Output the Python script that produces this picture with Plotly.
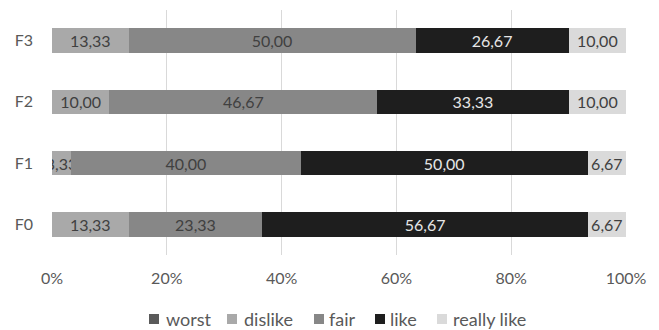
import plotly.graph_objects as go

categories = ["F0", "F1", "F2", "F3"]
series_names = ["worst", "dislike", "fair", "like", "really like"]
worst = [0, 0, 0, 0]
dislike = [13.33, 3.33, 10.00, 13.33]
fair = [23.33, 40.00, 46.67, 50.00]
like = [56.67, 50.00, 33.33, 26.67]
really_like = [6.67, 6.67, 10.00, 10.00]
tick_vals = [0, 20, 40, 60, 80, 100]

values = [worst, dislike, fair, like, really_like]
colors = ["#5a5a5a", "#a9a9a9", "#878787", "#1e1e1e", "#dadada"]
text_colors = ["#404040", "#404040", "#404040", "#e6e6e6", "#404040"]

FONT = "Lato"
W, H = 659, 330
L, R, T, B = 52, 33, 10, 75
PW, PH = W - L - R, H - T - B


def px(x):
    return (x - L) / PW


def py(y):
    return (H - B - y) / PH


fig = go.Figure()
for name, vals, col, tc in zip(series_names, values, colors, text_colors):
    fig.add_trace(go.Bar(
        y=categories, x=vals, name=name, orientation="h",
        marker=dict(color=col, line=dict(width=0)),
        text=[f"{v:.2f}".replace(".", ",") if v > 0 else "" for v in vals],
        textposition="inside", insidetextanchor="middle", textangle=0,
        textfont=dict(color=tc, size=16, family=FONT),
        hoverinfo="skip", showlegend=False,
    ))

# legend drawn as squares + text
legend_sq = [149, 227, 314, 375, 437]
legend_tx = [164, 242, 327, 388, 451]
ly = 319
for name, col, sx, tx in zip(series_names, colors, legend_sq, legend_tx):
    fig.add_shape(type="rect", xref="paper", yref="paper",
                  x0=px(sx), x1=px(sx + 10), y0=py(ly + 5), y1=py(ly - 5),
                  fillcolor=col, line=dict(width=0))
    fig.add_annotation(
        xref="paper", yref="paper", x=px(tx), y=py(ly), xanchor="left", yanchor="middle",
        showarrow=False, text=name,
        font=dict(family=FONT, size=18, color="#595959"),
    )

fig.update_layout(
    barmode="stack",
    bargap=0.6,
    width=W, height=H,
    margin=dict(l=L, r=R, t=T, b=B, autoexpand=False),
    paper_bgcolor="white", plot_bgcolor="white",
    font=dict(family=FONT, color="#595959", size=16),
    uniformtext=dict(minsize=16, mode="show"),
    xaxis=dict(range=[0, 100], tickvals=tick_vals,
               ticktext=[f"{t}%" for t in tick_vals],
               showgrid=True, gridcolor="#d9d9d9", gridwidth=1,
               zeroline=False, showline=False, ticks="",
               ticklabelstandoff=12,
               tickfont=dict(size=16, color="#595959")),
    yaxis=dict(showgrid=False, zeroline=False, showline=False, ticks="",
               ticklabelstandoff=18,
               tickfont=dict(size=16, color="#595959")),
    showlegend=False,
)

fig.write_html("out.html")
